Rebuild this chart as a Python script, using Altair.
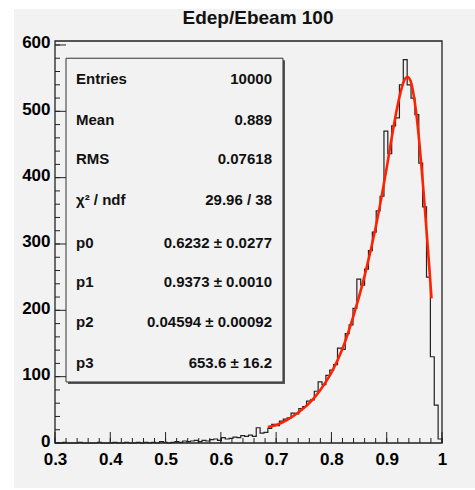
import altair as alt
import numpy as np
import pandas as pd

FONT = "Liberation Sans"
BG = "#f2f2f2"

title_text = "Edep/Ebeam 100"

# histogram: 100 bins from 0.3 to 1.0
x_lo, x_hi, n_bins = 0.3, 1.0, 100
counts = [
    0, 0, 1, 0, 0, 0, 1, 0, 0, 0, 0, 1, 0, 0, 0, 1, 0, 0, 1, 0,
    0, 1, 0, 1, 0, 1, 0, 2, 1, 0, 1, 2, 1, 3, 2,
    3, 4, 2, 4, 3, 5, 6, 4, 8, 6, 7, 9, 8, 11, 10,
    12, 10, 23, 15, 16,
    22, 28, 26, 33, 36, 38, 45, 44, 52, 55,
    63, 65, 78, 92, 88, 102, 110, 118, 143, 141,
    165, 178, 203, 247, 238, 262, 290, 318, 350, 372,
    470, 436, 478, 490, 540, 578, 540, 520, 495, 422,
    356, 250, 130, 57, 6,
]

# fitted curve
fit_x = [0.685, 0.70, 0.72, 0.74, 0.76, 0.78, 0.80, 0.82, 0.84, 0.86, 0.88,
         0.89, 0.90, 0.91, 0.92, 0.93, 0.937, 0.943, 0.950, 0.956, 0.962,
         0.967, 0.972, 0.977, 0.981]
fit_y = [24, 27, 35, 46, 60, 80, 106, 142, 192, 252, 325,
         368, 415, 465, 510, 543, 552, 546, 518, 478, 425,
         375, 320, 265, 218]

stat_labels = ["Entries", "Mean", "RMS", "χ² / ndf", "p0", "p1", "p2", "p3"]
stat_values = ["10000", "0.889", "0.07618", "29.96 / 38", "0.6232 ± 0.0277",
               "0.9373 ± 0.0010", "0.04594 ± 0.00092", "653.6 ± 16.2"]
stat_rows_y = [548, 487, 428, 366, 301, 243, 182, 121]
stat_label_x = 0.338
stat_value_x = 0.6925
box_x = [0.3199, 0.7124]
box_y = [92, 580]

x_major = [0.3, 0.4, 0.5, 0.6, 0.7, 0.8, 0.9, 1.0]
x_minor = list(np.round(np.arange(0.3, 1.0001, 0.02), 3))
y_major = [0, 100, 200, 300, 400, 500, 600]
y_minor = list(range(0, 601, 20))
y_max = 606

W, H = 387, 402

xs = alt.Scale(domain=[x_lo, x_hi], nice=False, zero=False)
ys = alt.Scale(domain=[0, y_max], nice=False)

edges = np.linspace(x_lo, x_hi, n_bins + 1)
hist_df = pd.DataFrame({"x": list(edges[:-1]) + [x_hi], "y": counts + [0]})
fit_df = pd.DataFrame({"x": fit_x, "y": fit_y})
stat_df = pd.DataFrame({"label": stat_labels, "value": stat_values, "y": stat_rows_y,
                        "lx": stat_label_x, "vx": stat_value_x})
box_df = pd.DataFrame({"x": [box_x[0]], "x2": [box_x[1]], "y": [box_y[0]], "y2": [box_y[1]]})

axis_common = dict(ticks=False, tickSize=0, domain=False, grid=False,
                   labelFont=FONT, labelFontSize=17, labelFontWeight="bold",
                   labelColor="black", title=None, zindex=1,
                   labelFlush=False, labelOverlap=False)

bg = alt.Chart(pd.DataFrame({"a": [0]})).mark_rect(color=BG).encode(
    x=alt.value(-41), x2=alt.value(420), y=alt.value(-32), y2=alt.value(447))

hist = alt.Chart(hist_df).mark_line(interpolate="step-after", color="#222",
                                    strokeWidth=1.2).encode(
    x=alt.X("x:Q", scale=xs, axis=alt.Axis(values=x_major, format=".1~f",
                                            labelPadding=8, **axis_common)),
    y=alt.Y("y:Q", scale=ys, axis=alt.Axis(values=y_major, labelPadding=5,
                                            labelOffset=-2, **axis_common)),
)

fit = alt.Chart(fit_df).mark_line(interpolate="monotone", color="#ff2200",
                                  strokeWidth=2.6).encode(
    x=alt.X("x:Q", scale=xs), y=alt.Y("y:Q", scale=ys))

shadow = alt.Chart(box_df).mark_rect(color="#555", xOffset=2, x2Offset=2,
                                     yOffset=2, y2Offset=2).encode(
    x=alt.X("x:Q", scale=xs), x2="x2:Q", y=alt.Y("y:Q", scale=ys), y2="y2:Q")
box = alt.Chart(box_df).mark_rect(fill=BG, stroke="#333", strokeWidth=1).encode(
    x=alt.X("x:Q", scale=xs), x2="x2:Q", y=alt.Y("y:Q", scale=ys), y2="y2:Q")

lab = alt.Chart(stat_df).mark_text(align="left", baseline="middle", font=FONT,
                                   fontSize=15, fontWeight="bold", color="#111").encode(
    x=alt.X("lx:Q", scale=xs), y=alt.Y("y:Q", scale=ys), text="label:N")
val = alt.Chart(stat_df).mark_text(align="right", baseline="middle", font=FONT,
                                   fontSize=15, fontWeight="bold", color="#111").encode(
    x=alt.X("vx:Q", scale=xs), y=alt.Y("y:Q", scale=ys), text="value:N")

def xticks(vals, length):
    return alt.Chart(pd.DataFrame({"t": vals})).mark_rule(color="#222", strokeWidth=1).encode(
        x=alt.X("t:Q", scale=xs), y=alt.value(H), y2=alt.value(H - length))

def yticks(vals, length):
    return alt.Chart(pd.DataFrame({"t": vals})).mark_rule(color="#222", strokeWidth=1).encode(
        y=alt.Y("t:Q", scale=ys), x=alt.value(0), x2=alt.value(length))

frame = alt.Chart(pd.DataFrame({"a": [0]})).mark_rect(fill=None, stroke="#222",
                                                      strokeWidth=1.3).encode(
    x=alt.value(0), x2=alt.value(W), y=alt.value(0), y2=alt.value(H))

title = alt.Chart(pd.DataFrame({"t": [title_text]})).mark_text(
    font=FONT, fontSize=19, fontWeight="bold", color="#111", align="center",
    baseline="middle").encode(x=alt.value(203), y=alt.value(-23), text="t:N")

chart = alt.layer(
    bg, hist, fit, shadow, box, lab, val,
    xticks(x_minor, 5), xticks(x_major, 11), yticks(y_minor, 5), yticks(y_major, 11),
    frame, title,
).properties(
    width=W, height=H,
    autosize=alt.AutoSizeParams(type="none"),
    padding={"left": 55, "top": 41, "right": 33, "bottom": 47},
    background="white",
).configure_view(stroke=None, fill=None)

chart.save("out.html", embed_options={"renderer": "svg", "actions": False})
